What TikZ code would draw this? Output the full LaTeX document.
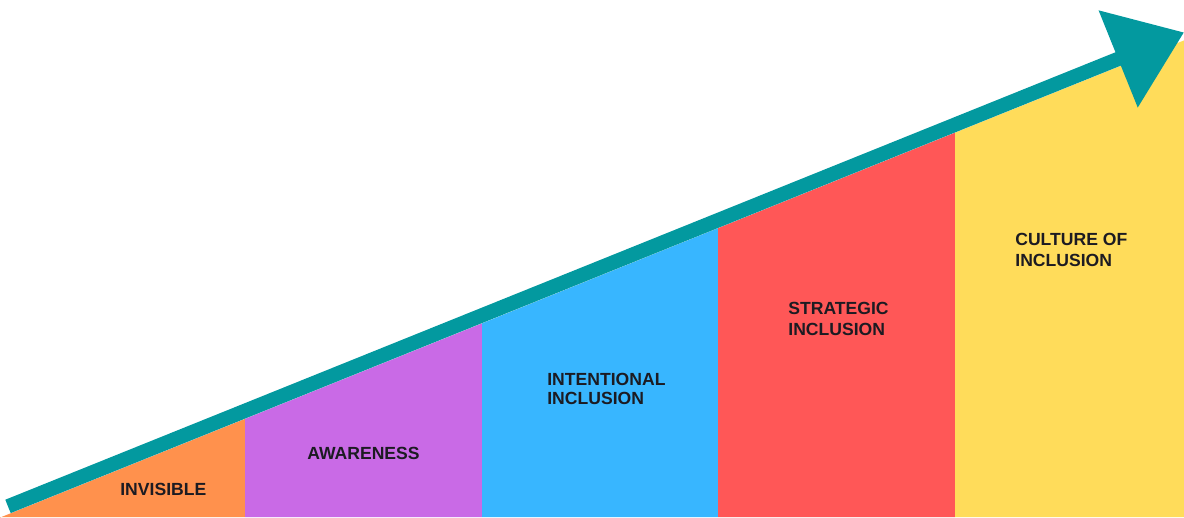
\documentclass[tikz,border=0pt]{standalone}
\usepackage{fontspec}
\setmainfont{Liberation Sans}
\usepackage{xcolor}
\usetikzlibrary{arrows.meta}

\definecolor{orangecol}{HTML}{FF914D}
\definecolor{purplecol}{HTML}{C96AE6}
\definecolor{bluecol}{HTML}{38B6FF}
\definecolor{redcol}{HTML}{FF5757}
\definecolor{yellowcol}{HTML}{FFDC5A}
\definecolor{tealcol}{HTML}{03999F}
\definecolor{textcol}{HTML}{1C1B22}

\begin{document}
\begin{tikzpicture}[x=0.2mm, y=0.2mm,
  stagetext/.style={anchor=north west, inner sep=0pt, align=left, text=textcol,
    font=\fontsize{10}{12}\selectfont\bfseries}]
\useasboundingbox (0,0) rectangle (1184,517);
\clip (0,0) rectangle (1184,517);

% Columns under the arrow
\fill[orangecol] (0,0) -- (0,-0.6) -- (245,98.1) -- (245,0) -- cycle;
\fill[purplecol] (245,0) -- (245,98.1) -- (482,193.6) -- (482,0) -- cycle;
\fill[bluecol] (482,0) -- (482,193.6) -- (718,288.8) -- (718,0) -- cycle;
\fill[redcol] (718,0) -- (718,288.8) -- (955,384.3) -- (955,0) -- cycle;
\fill[yellowcol] (955,0) -- (955,384.3) -- (1184,476.6) -- (1184,0) -- cycle;

% Arrow
\coordinate (start) at (8,10.6);
\coordinate (tip) at (1184,484.6);
\draw[tealcol, line width=2.88mm, -{Triangle[length=14.2mm, width=20.2mm]}] (start) -- (tip);

% Stage labels
\node[stagetext] (invisible) at (120,34) {INVISIBLE};
\node[stagetext] (awareness) at (307,70) {AWARENESS};
\node[stagetext, font=\fontsize{10}{10.5}\selectfont\bfseries] (intentional) at (547,144) {INTENTIONAL\\INCLUSION};
\node[stagetext] (strategic) at (788,215) {STRATEGIC\\INCLUSION};
\node[stagetext] (culture) at (1015,284) {CULTURE OF\\INCLUSION};
\end{tikzpicture}
\end{document}
